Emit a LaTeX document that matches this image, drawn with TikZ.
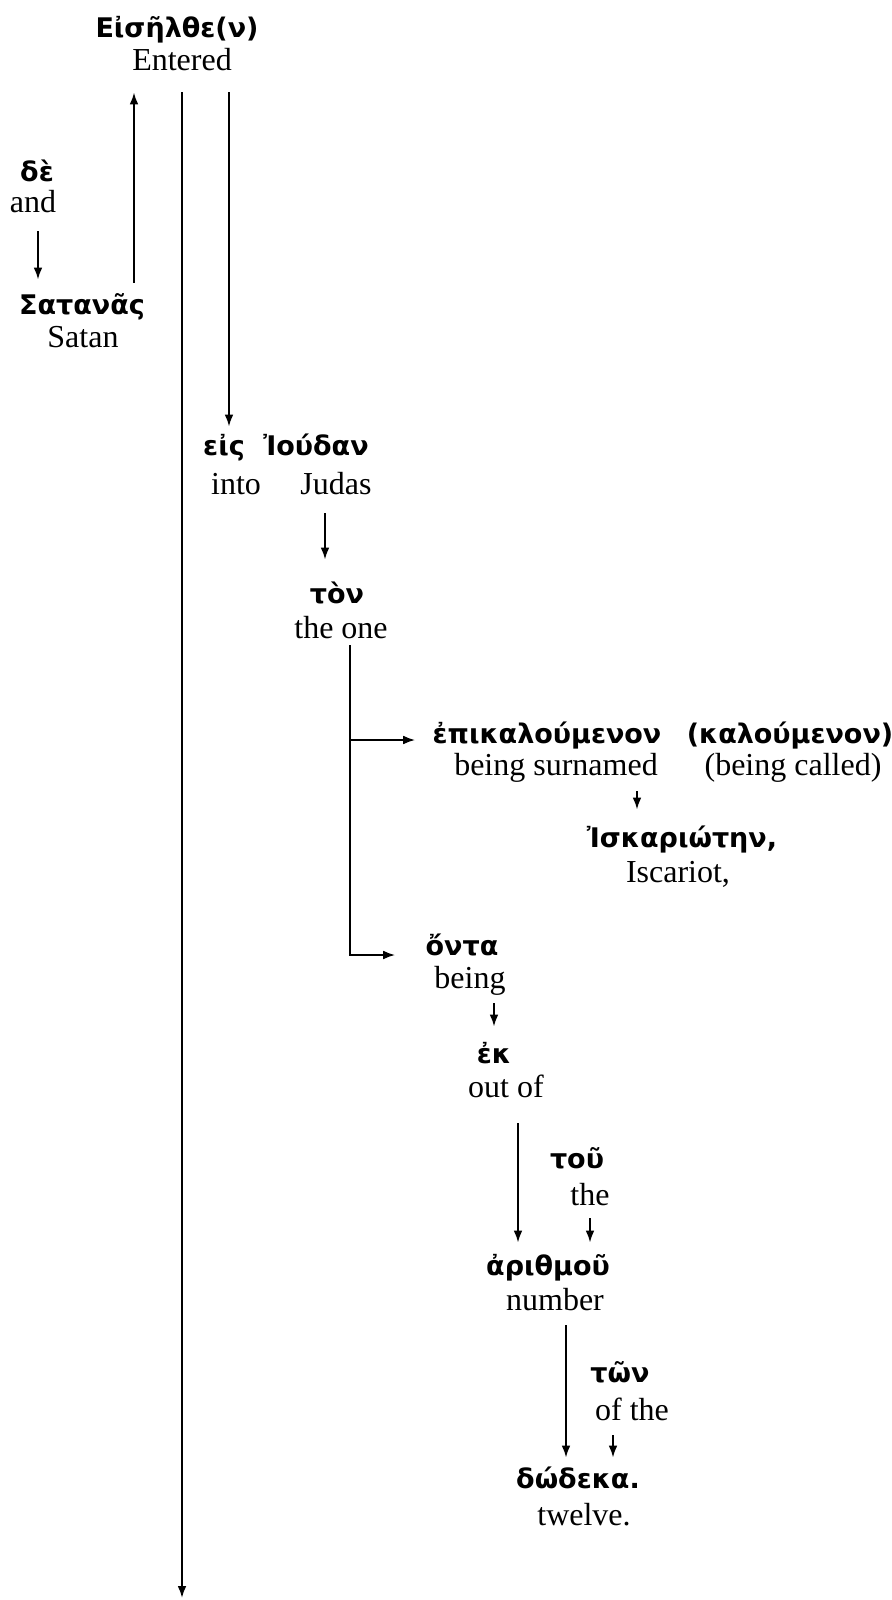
\documentclass[tikz,border=0pt]{standalone}
\usepackage{fontspec}
\setmainfont{Liberation Serif}
\newfontfamily\greekfont{DejaVu Sans}
\usetikzlibrary{arrows.meta}
\tikzset{
  gr/.style={font=\greekfont\bfseries\fontsize{13.5}{15}\selectfont, anchor=base, inner sep=0pt, text height=9pt, text depth=2.5pt},
  en/.style={font=\fontsize{16}{18}\selectfont, anchor=base, inner sep=0pt, text height=10.5pt, text depth=3.5pt},
  arr/.style={-{Latex[length=6pt,width=4.4pt]}, line width=1pt},
}
\begin{document}
\begin{tikzpicture}[x=0.5pt,y=-0.5pt]
        \useasboundingbox (0,0) rectangle (891,1600);

        % main verb
        \node[gr] (eiselthen) at (177,38) {Εἰσῆλθε(ν)};
        \node[en] (entered) at (182,71) {Entered};

        % subject
        \node[gr] (de) at (37,181) {δὲ};
        \node[en] (and) at (33,212) {and};
        \node[gr] (satanas) at (82,314) {Σατανᾶς};
        \node[en] (satan) at (83,347) {Satan};

        % prepositional phrase
        \node[gr] (eis) at (224,455) {εἰς};
        \node[gr] (ioudan) at (316,455) {Ἰούδαν};
        \node[en] (into) at (236,494) {into};
        \node[en] (judas) at (336,494) {Judas};
        \node[gr] (ton) at (337,603) {τὸν};
        \node[en] (theone) at (341,638) {the one};

        \node[gr] (epikaloumenon) at (547,743) {ἐπικαλούμενον};
        \node[en] (surnamed) at (556,775) {being surnamed};
        \node[gr] (kaloumenon) at (790,743) {(καλούμενον)};
        \node[en] (called) at (793,775) {(being called)};
        \node[gr] (iskarioten) at (682,847) {Ἰσκαριώτην,};
        \node[en] (iscariot) at (678,882) {Iscariot,};

        \node[gr] (onta) at (462,955) {ὄντα};
        \node[en] (being) at (470,988) {being};
        \node[gr] (ek) at (494,1063) {ἐκ};
        \node[en] (outof) at (506,1097) {out of};
        \node[gr] (tou) at (577,1168) {τοῦ};
        \node[en] (the) at (590,1205) {the};
        \node[gr] (arithmou) at (548,1275) {ἀριθμοῦ};
        \node[en] (number) at (555,1310) {number};
        \node[gr] (twn) at (620,1382) {τῶν};
        \node[en] (ofthe) at (632,1420) {of the};
        \node[gr] (dodeka) at (578,1488) {δώδεκα.};
        \node[en] (twelve) at (584,1525) {twelve.};

        \coordinate (split) at (350,740);
        \coordinate (bottom) at (182,1598);

        % connectors
        \draw[arr, shorten <=6.5pt, shorten >=7pt] (satanas.north -| 134,0) -- (entered.south -| 134,0);
        \draw[arr, shorten <=7pt] (entered.south) -- (bottom);
        \draw[arr, shorten <=7pt, shorten >=5pt] (entered.south -| 229,0) -- (eis.north -| 229,0);
        \draw[arr, shorten <=6pt, shorten >=8pt] (and.south -| 38,0) -- (satanas.north -| 38,0);
        \draw[arr, shorten <=6pt, shorten >=12.5pt] (judas.south -| 325,0) -- (ton.north -| 325,0);
        \draw[arr, shorten >=15pt] (theone.south -| split) |- (onta.base west);
        \draw[arr, shorten >=8.5pt] (split) -- (split -| epikaloumenon.west);
        \draw[arr, shorten <=4.5pt, shorten >=9.5pt] (surnamed.south -| 637,0) -- (iskarioten.north -| 637,0);
        \draw[arr, shorten <=4pt, shorten >=9pt] (being.south -| 494,0) -- (ek.north -| 494,0);
        \draw[arr, shorten <=9.5pt, shorten >=7pt] (outof.south -| 518,0) -- (arithmou.north -| 518,0);
        \draw[arr, shorten <=3pt, shorten >=7pt] (the.south -| 590,0) -- (arithmou.north -| 590,0);
        \draw[arr, shorten <=4pt, shorten >=6pt] (number.south -| 566,0) -- (dodeka.north -| 566,0);
        \draw[arr, shorten <=4pt, shorten >=6pt] (ofthe.south -| 613,0) -- (dodeka.north -| 613,0);
\end{tikzpicture}
\end{document}
